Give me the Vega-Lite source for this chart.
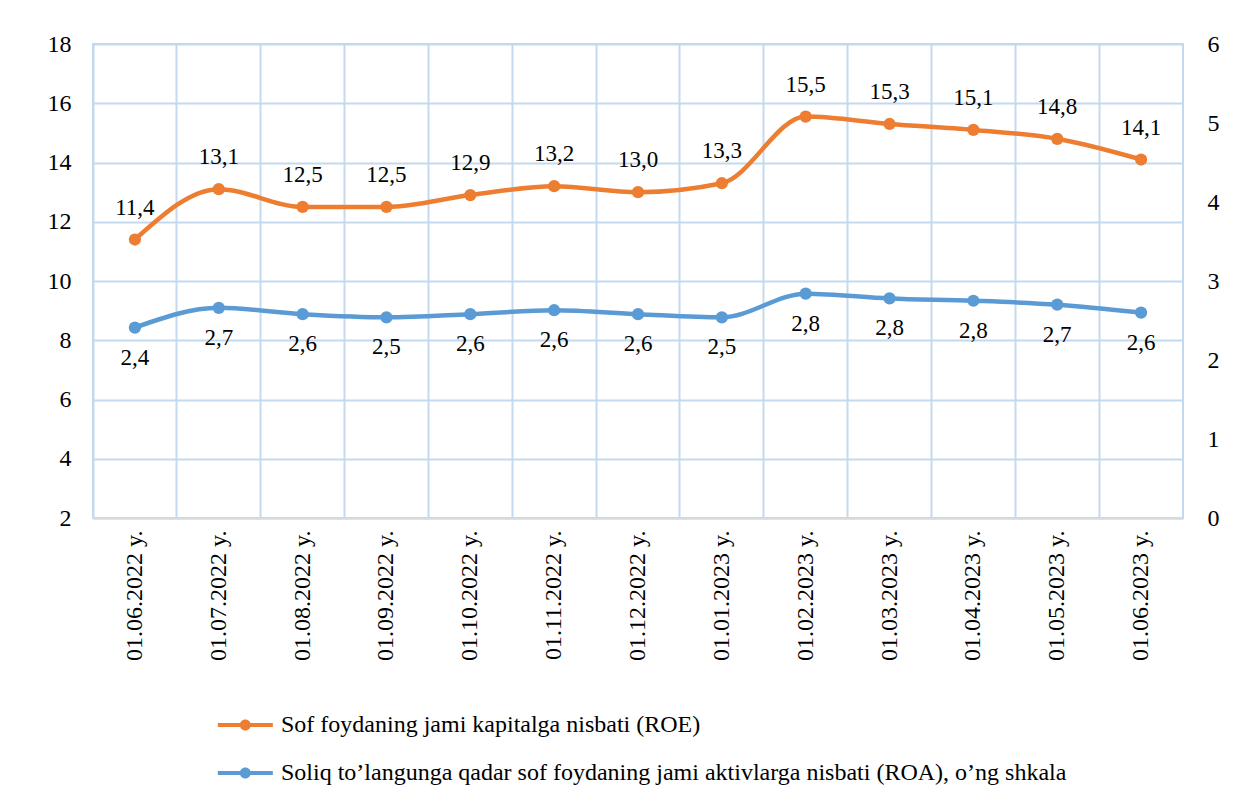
{
  "$schema": "https://vega.github.io/schema/vega-lite/v6.json",
  "width": 1090,
  "height": 474,
  "autosize": {"type": "none"},
  "padding": {"left": 93, "top": 44, "right": 73, "bottom": 287},
  "background": "white",
  "config": {
    "view": {"stroke": "#c5d9ee", "strokeWidth": 2}
  },
  "data": {
    "values": [
      {"date": "01.06.2022 y.", "series": "Sof foydaning jami kapitalga nisbati (ROE)", "value": 11.4, "label": "11,4"},
      {"date": "01.07.2022 y.", "series": "Sof foydaning jami kapitalga nisbati (ROE)", "value": 13.1, "label": "13,1"},
      {"date": "01.08.2022 y.", "series": "Sof foydaning jami kapitalga nisbati (ROE)", "value": 12.5, "label": "12,5"},
      {"date": "01.09.2022 y.", "series": "Sof foydaning jami kapitalga nisbati (ROE)", "value": 12.5, "label": "12,5"},
      {"date": "01.10.2022 y.", "series": "Sof foydaning jami kapitalga nisbati (ROE)", "value": 12.9, "label": "12,9"},
      {"date": "01.11.2022 y.", "series": "Sof foydaning jami kapitalga nisbati (ROE)", "value": 13.2, "label": "13,2"},
      {"date": "01.12.2022 y.", "series": "Sof foydaning jami kapitalga nisbati (ROE)", "value": 13.0, "label": "13,0"},
      {"date": "01.01.2023 y.", "series": "Sof foydaning jami kapitalga nisbati (ROE)", "value": 13.3, "label": "13,3"},
      {"date": "01.02.2023 y.", "series": "Sof foydaning jami kapitalga nisbati (ROE)", "value": 15.55, "label": "15,5"},
      {"date": "01.03.2023 y.", "series": "Sof foydaning jami kapitalga nisbati (ROE)", "value": 15.3, "label": "15,3"},
      {"date": "01.04.2023 y.", "series": "Sof foydaning jami kapitalga nisbati (ROE)", "value": 15.1, "label": "15,1"},
      {"date": "01.05.2023 y.", "series": "Sof foydaning jami kapitalga nisbati (ROE)", "value": 14.8, "label": "14,8"},
      {"date": "01.06.2023 y.", "series": "Sof foydaning jami kapitalga nisbati (ROE)", "value": 14.1, "label": "14,1"},
      {"date": "01.06.2022 y.", "series": "Soliq to’langunga qadar sof foydaning jami aktivlarga nisbati (ROA), o’ng shkala", "value": 2.41, "label": "2,4"},
      {"date": "01.07.2022 y.", "series": "Soliq to’langunga qadar sof foydaning jami aktivlarga nisbati (ROA), o’ng shkala", "value": 2.66, "label": "2,7"},
      {"date": "01.08.2022 y.", "series": "Soliq to’langunga qadar sof foydaning jami aktivlarga nisbati (ROA), o’ng shkala", "value": 2.58, "label": "2,6"},
      {"date": "01.09.2022 y.", "series": "Soliq to’langunga qadar sof foydaning jami aktivlarga nisbati (ROA), o’ng shkala", "value": 2.54, "label": "2,5"},
      {"date": "01.10.2022 y.", "series": "Soliq to’langunga qadar sof foydaning jami aktivlarga nisbati (ROA), o’ng shkala", "value": 2.58, "label": "2,6"},
      {"date": "01.11.2022 y.", "series": "Soliq to’langunga qadar sof foydaning jami aktivlarga nisbati (ROA), o’ng shkala", "value": 2.63, "label": "2,6"},
      {"date": "01.12.2022 y.", "series": "Soliq to’langunga qadar sof foydaning jami aktivlarga nisbati (ROA), o’ng shkala", "value": 2.58, "label": "2,6"},
      {"date": "01.01.2023 y.", "series": "Soliq to’langunga qadar sof foydaning jami aktivlarga nisbati (ROA), o’ng shkala", "value": 2.54, "label": "2,5"},
      {"date": "01.02.2023 y.", "series": "Soliq to’langunga qadar sof foydaning jami aktivlarga nisbati (ROA), o’ng shkala", "value": 2.84, "label": "2,8"},
      {"date": "01.03.2023 y.", "series": "Soliq to’langunga qadar sof foydaning jami aktivlarga nisbati (ROA), o’ng shkala", "value": 2.78, "label": "2,8"},
      {"date": "01.04.2023 y.", "series": "Soliq to’langunga qadar sof foydaning jami aktivlarga nisbati (ROA), o’ng shkala", "value": 2.75, "label": "2,8"},
      {"date": "01.05.2023 y.", "series": "Soliq to’langunga qadar sof foydaning jami aktivlarga nisbati (ROA), o’ng shkala", "value": 2.70, "label": "2,7"},
      {"date": "01.06.2023 y.", "series": "Soliq to’langunga qadar sof foydaning jami aktivlarga nisbati (ROA), o’ng shkala", "value": 2.60, "label": "2,6"}
    ]
  },
  "encoding": {
    "x": {"field": "date", "type": "nominal", "sort": null, "title": null,
      "scale": {"type": "band", "paddingInner": 0, "paddingOuter": 0}},
    "color": {"field": "series", "type": "nominal", "sort": null,
      "scale": {"domain": ["Sof foydaning jami kapitalga nisbati (ROE)", "Soliq to’langunga qadar sof foydaning jami aktivlarga nisbati (ROA), o’ng shkala"], "range": ["#ED7D31", "#5B9BD5"]},
      "legend": {
        "title": null, "orient": "none", "direction": "vertical",
        "legendX": 122, "legendY": 669,
        "symbolType": "M-1,-0.22L5,-0.22L5,0.22L-1,0.22Z M1.4,0 A0.6,0.6 0 1,1 2.6,0 A0.6,0.6 0 1,1 1.4,0Z",
        "symbolSize": 336,
        "symbolStrokeWidth": 0,
        "labelFont": "Times New Roman",
        "labelFontSize": 24, "labelColor": "#000000", "labelOffset": 42, "labelLimit": 1000,
        "rowPadding": 24
      }
    }
  },
  "layer": [
    {
      "transform": [{"filter": "datum.series === 'Sof foydaning jami kapitalga nisbati (ROE)'"}],
      "encoding": {
        "y": {"field": "value", "type": "quantitative", "title": null,
          "scale": {"domain": [2, 18], "nice": false, "zero": false},
          "axis": {"orient": "left", "values": [2, 4, 6, 8, 10, 12, 14, 16, 18], "grid": true, "gridColor": "#c5d9ee", "gridWidth": 2,
            "domain": false, "ticks": false, "labelFont": "Times New Roman", "labelColor": "#000000", "labelFontSize": 24, "labelPadding": 22}}
      },
      "layer": [
        {"mark": {"type": "line", "interpolate": "monotone", "strokeWidth": 4.5}},
        {"mark": {"type": "point", "filled": true, "opacity": 1, "size": 150}},
        {"mark": {"type": "text", "dy": -32, "fontSize": 23, "font": "Times New Roman"},
          "encoding": {"text": {"field": "label"}, "color": {"value": "#000000"}}},
        {"mark": {"type": "point", "opacity": 0, "size": 1},
          "encoding": {"x": {"field": "date", "type": "nominal", "sort": null, "title": null,
            "axis": {"orient": "bottom", "grid": true, "gridColor": "#c5d9ee", "gridWidth": 2, "bandPosition": 0,
              "labels": false, "ticks": false, "domain": false}}, "color": {"value": "transparent"}}}
      ]
    },
    {
      "transform": [{"filter": "datum.series !== 'Sof foydaning jami kapitalga nisbati (ROE)'"}],
      "encoding": {
        "y": {"field": "value", "type": "quantitative", "title": null,
          "scale": {"domain": [0, 6], "nice": false, "zero": false},
          "axis": {"orient": "right", "values": [0, 1, 2, 3, 4, 5, 6], "grid": false,
            "domain": false, "ticks": false, "labelFont": "Times New Roman", "labelColor": "#000000", "labelFontSize": 24, "labelPadding": 24}}
      },
      "layer": [
        {"mark": {"type": "line", "interpolate": "monotone", "strokeWidth": 4.5}},
        {"mark": {"type": "point", "filled": true, "opacity": 1, "size": 150}},
        {"mark": {"type": "text", "dy": 30, "fontSize": 23, "font": "Times New Roman"},
          "encoding": {"text": {"field": "label"}, "color": {"value": "#000000"}}},
        {"mark": {"type": "point", "opacity": 0, "size": 1},
          "encoding": {"x": {"field": "date", "type": "nominal", "sort": null, "title": null,
            "axis": {"orient": "bottom", "grid": false, "labelAngle": -90, "labelFont": "Times New Roman", "labelColor": "#000000", "labelFontSize": 24, "labelPadding": 12,
              "ticks": false, "domain": true, "domainColor": "#d9d9d9", "domainWidth": 2}}, "color": {"value": "transparent"}}}
      ]
    }
  ],
  "resolve": {"scale": {"y": "independent"}, "axis": {"x": "independent"}}
}
